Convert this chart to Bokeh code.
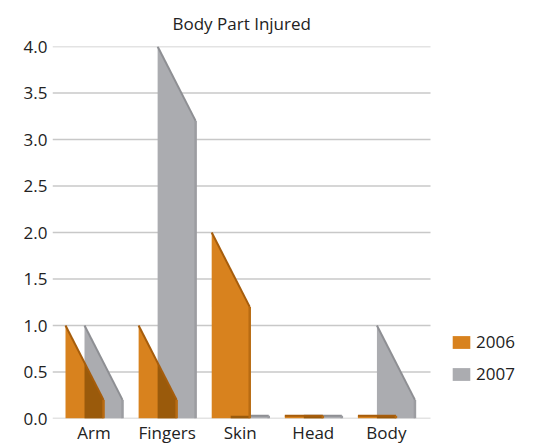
import numpy as np
from bokeh.plotting import figure
from bokeh.models import Range1d, FixedTicker, Legend, LegendItem
from bokeh.embed import file_html
from bokeh.resources import INLINE

# ---- data ----
categories = ["Arm", "Fingers", "Skin", "Head", "Body"]
series_names = ["2006", "2007"]
values_2006 = [1.0, 1.0, 2.0, 0.0, 0.0]
values_2007 = [1.0, 4.0, 0.0, 0.0, 1.0]
y_ticks = [0.0, 0.5, 1.0, 1.5, 2.0, 2.5, 3.0, 3.5, 4.0]
title_text = "Body Part Injured"

# ---- style ----
BAR_W = 0.52
OFF_2006 = -0.39
OFF_2007 = -0.13
DROP = 0.8
PLATE = 0.03
X_START = -0.568
GRID_END = 4.603
X_END = 6.012
ORANGE = "#D8821E"
ORANGE_EDGE = "#A65D0C"
ORANGE_RIGHT = "#B86B12"
DARK = "#9A5A0B"
GRAY = "#ABACB0"
GRAY_EDGE = "#8E8F93"
GRAY_RIGHT = "#9C9DA1"
GRID = "#C8C8C8"
FONT = "Open Sans"

p = figure(width=533, height=445, output_backend="svg", toolbar_location=None,
           x_range=Range1d(X_START, X_END), y_range=Range1d(0, 4.0),
           frame_width=481, frame_height=372,
           min_border_left=52, min_border_right=0, min_border_top=46,
           min_border_bottom=27)
p.outline_line_color = None
p.xgrid.grid_line_color = None
p.ygrid.grid_line_color = None

p.title.text = title_text
p.title.align = "left"
p.title.offset = 120
p.title.standoff = 19
p.title.vertical_align = "top"
p.title.text_font = FONT
p.title.text_font_size = "17px"
p.title.text_font_style = "normal"
p.title.text_color = "#222222"

# horizontal gridlines ending at the plot area's right side
p.segment(x0=[X_START] * len(y_ticks), y0=y_ticks,
          x1=[GRID_END] * len(y_ticks), y1=y_ticks,
          line_color=GRID, line_width=1.5)

p.yaxis.ticker = FixedTicker(ticks=y_ticks)
p.yaxis.major_label_overrides = {t: f"{t:.1f}" for t in y_ticks}
p.xaxis.ticker = FixedTicker(ticks=list(range(len(categories))))
p.xaxis.major_label_overrides = {i: c for i, c in enumerate(categories)}
for ax in (p.xaxis, p.yaxis):
    ax.axis_line_color = None
    ax.major_tick_line_color = None
    ax.minor_tick_line_color = None
    ax.major_tick_out = 0
    ax.major_tick_in = 0
    ax.major_label_text_font = FONT
    ax.major_label_text_font_size = "17px"
    ax.major_label_text_color = "#222222"
p.yaxis.major_label_standoff = 5
p.xaxis.major_label_standoff = 2


def top_fn(x0, v):
    return lambda x: np.maximum(v - DROP * (x - x0) / BAR_W, PLATE)


def wedge(x0, v):
    f = top_fn(x0, v)
    x1 = x0 + BAR_W
    return [x0, x0, x1, x1], [0, float(f(x0)), float(f(x1)), 0]


def build(values, off):
    xs, ys, sl_x, sl_y, rx, ry = [], [], [], [], [], []
    for i, v in enumerate(values):
        x0 = i + off
        wx, wy = wedge(x0, v)
        xs.append(wx); ys.append(wy)
        sl_x.append([wx[1], wx[2]]); sl_y.append([wy[1], wy[2]])
        rx.append([wx[2], wx[3]]); ry.append([wy[2], 0])
    return xs, ys, sl_x, sl_y, rx, ry


gx, gy, gsx, gsy, grx, gry = build(values_2007, OFF_2007)
ox, oy, osx, osy, orx, ory = build(values_2006, OFF_2006)

r_gray = p.patches(gx, gy, fill_color=GRAY, line_color=None)
p.multi_line(gsx, gsy, line_color=GRAY_EDGE, line_width=2)
p.multi_line(grx, gry, line_color=GRAY_RIGHT, line_width=2.5)

r_orange = p.patches(ox, oy, fill_color=ORANGE, line_color=None)

# overlap (orange in front of gray)
dx, dy = [], []
for i, (v6, v7) in enumerate(zip(values_2006, values_2007)):
    xo0 = i + OFF_2006
    xg0 = i + OFF_2007
    lo = max(xo0, xg0)
    hi = min(xo0 + BAR_W, xg0 + BAR_W)
    xs = np.linspace(lo, hi, 40)
    top = np.minimum(top_fn(xo0, v6)(xs), top_fn(xg0, v7)(xs))
    dx.append([lo] + list(xs) + [hi])
    dy.append([0] + list(top) + [0])
p.patches(dx, dy, fill_color=DARK, line_color=None)

p.multi_line(osx, osy, line_color=ORANGE_EDGE, line_width=2)
p.multi_line(orx, ory, line_color=ORANGE_RIGHT, line_width=2.5)

legend = Legend(items=[LegendItem(label=series_names[0], renderers=[r_orange]),
                       LegendItem(label=series_names[1], renderers=[r_gray])],
                location=(398, 33))
legend.border_line_color = None
legend.background_fill_alpha = 0
legend.glyph_width = 22
legend.glyph_height = 16
legend.label_height = 16
legend.label_standoff = 4
legend.spacing = 9
legend.padding = 0
legend.margin = 0
legend.label_text_font = FONT
legend.label_text_font_size = "17px"
legend.label_text_color = "#222222"
p.add_layout(legend)

open("out.html", "w").write(file_html(p, INLINE))
